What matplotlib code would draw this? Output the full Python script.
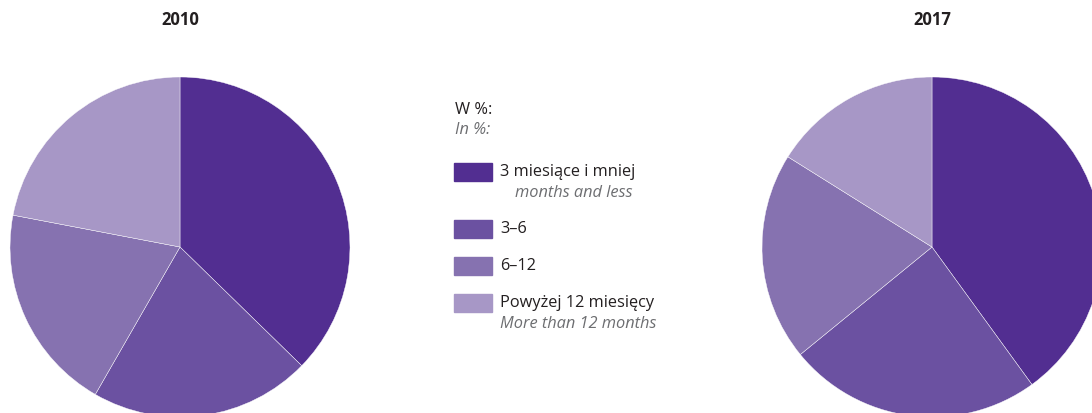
import matplotlib.pyplot as plt

plt.rcParams['font.family'] = ['Open Sans', 'DejaVu Sans']

years = ['2010', '2017']
share_2010 = [37.3, 21.0, 19.7, 22.0]
share_2017 = [40.0, 24.1, 19.8, 16.1]
labels_pl = ['3 miesiące i mniej', '3–6', '6–12', 'Powyżej 12 miesięcy']
labels_en = ['months and less', '', '', 'More than 12 months']
colors = ['#522e91', '#6b51a1', '#8672b0', '#a797c6']

W, H = 1092, 413
fig = plt.figure(figsize=(W / 100, H / 100), dpi=100)

def pie_axes(cx, cy, r):
    # cx, cy in pixels from top-left
    return fig.add_axes([(cx - r) / W, (H - cy - r) / H, 2 * r / W, 2 * r / H])

for cx, year, vals in [(180, years[0], share_2010), (932, years[1], share_2017)]:
    ax = pie_axes(cx, 247, 170)
    ax.pie(vals, colors=colors, startangle=90, counterclock=False,
           wedgeprops=dict(edgecolor='white', linewidth=0.3))
    ax.set_xlim(-1, 1)
    ax.set_ylim(-1, 1)
    ax.set_aspect('equal')
    ax.axis('off')
    fig.text(cx / W, 1 - 20 / H, year, ha='center', va='center',
             fontsize=12, fontweight='bold', color='#231f20')

dark = '#231f20'
grey = '#6d6e71'
fs = 11.8
fig.text(455 / W, 1 - 110 / H, 'W %:', fontsize=fs, color=dark, va='center')
fig.text(455 / W, 1 - 130 / H, 'In %:', fontsize=fs, color=grey, va='center', style='italic')

rows_y = [172, 229, 266, 303]
for y, c, pl, en, i in zip(rows_y, colors, labels_pl, labels_en, range(4)):
    fig.patches.append(plt.Rectangle((454 / W, 1 - (y + 9) / H), 38 / W, 18 / H,
                                     transform=fig.transFigure, color=c))
    fig.text(500 / W, 1 - y / H, pl, fontsize=fs, color=dark, va='center')
    if en:
        ex = 515 if i == 0 else 500
        fig.text(ex / W, 1 - (y + 21) / H, en, fontsize=fs, color=grey,
                 va='center', style='italic')

fig.savefig('out.png', dpi=100)
